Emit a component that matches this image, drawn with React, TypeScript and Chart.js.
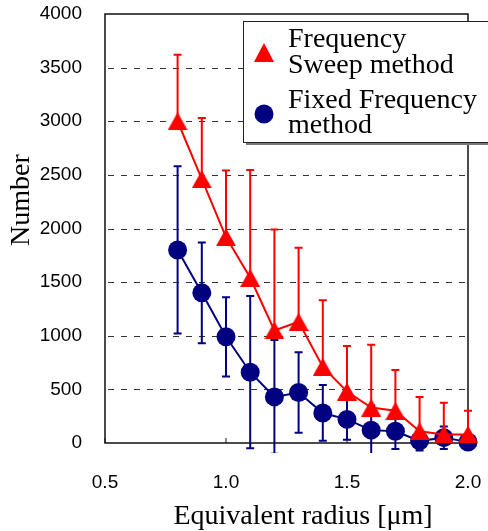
import React, { useEffect, useRef } from 'react';
import { Chart, registerables } from 'chart.js';

Chart.register(...registerables);

// ---- data ----
const radius = [0.8, 0.9, 1.0, 1.1, 1.2, 1.3, 1.4, 1.5, 1.6, 1.7, 1.8, 1.9, 2.0];
const sweepValues = [3000, 2460, 1920, 1540, 1050, 1130, 710, 480, 330, 300, 110, 80, 80];
const sweepUpper = [3620, 3030, 2540, 2545, 1990, 1820, 1330, 905, 915, 680, 430, 375, 300];
const fixedValues = [1800, 1400, 990, 660, 430, 470, 280, 220, 120, 110, 20, 50, 10];
const fixedError = [780, 470, 370, 710, 530, 375, 260, 190, 230, 165, 90, 105, 30];
const xTicks = [0.5, 1.0, 1.5, 2.0];
const yTicks = [0, 500, 1000, 1500, 2000, 2500, 3000, 3500, 4000];
const legendSweep = ['Frequency', 'Sweep method'];
const legendFixed = ['Fixed Frequency', 'method'];
const xTitle = 'Equivalent radius [\u03bcm]';
const yTitle = 'Number';

const RED = '#ff0000';
const BLUE = '#000080';
const SERIF = '"Liberation Serif", "Times New Roman", serif';
const SANS = '"Liberation Sans", Arial, sans-serif';

function makeTriangle(): HTMLCanvasElement {
  const c = document.createElement('canvas');
  c.width = 20;
  c.height = 18;
  const g = c.getContext('2d')!;
  g.fillStyle = RED;
  g.beginPath();
  g.moveTo(10, 0);
  g.lineTo(20, 18);
  g.lineTo(0, 18);
  g.closePath();
  g.fill();
  return c;
}

const frameGridPlugin = {
  id: 'frameGrid',
  beforeDatasetsDraw(chart: any) {
    const { ctx, chartArea, scales } = chart;
    const { left, right, top, bottom } = chartArea;
    ctx.save();
    ctx.strokeStyle = '#333';
    ctx.lineWidth = 1;
    ctx.setLineDash([6, 7]);
    ctx.lineDashOffset = -3;
    yTicks.forEach((v) => {
      if (v === yTicks[0] || v === yTicks[yTicks.length - 1]) return;
      const py = Math.round(scales.y.getPixelForValue(v)) + 0.5;
      ctx.beginPath();
      ctx.moveTo(left, py);
      ctx.lineTo(right, py);
      ctx.stroke();
    });
    ctx.setLineDash([]);
    // x tick marks (inside)
    ctx.strokeStyle = '#666';
    ctx.lineWidth = 1.5;
    xTicks.forEach((v) => {
      const px = scales.x.getPixelForValue(v);
      ctx.beginPath();
      ctx.moveTo(px, bottom);
      ctx.lineTo(px, bottom - 5);
      ctx.stroke();
    });
    // frame
    ctx.strokeStyle = '#111';
    ctx.lineWidth = 1.5;
    ctx.strokeRect(left, top, right - left, bottom - top);
    ctx.restore();
  },
};

const errorBarPlugin = {
  id: 'errorBars',
  beforeDatasetDraw(chart: any, args: any) {
    const ds = chart.data.datasets[args.index];
    const bars = ds.errorBars;
    if (!bars) return;
    const { ctx, chartArea, scales } = chart;
    ctx.save();
    ctx.beginPath();
    ctx.rect(chartArea.left - 10, chartArea.top, chartArea.width + 20, chartArea.height + 10);
    ctx.clip();
    ctx.strokeStyle = ds.borderColor;
    ctx.lineWidth = 2;
    ds.data.forEach((p: any, i: number) => {
      const [lo, hi] = bars[i];
      const px = scales.x.getPixelForValue(p.x);
      const pl = scales.y.getPixelForValue(lo);
      const ph = scales.y.getPixelForValue(hi);
      ctx.beginPath();
      ctx.moveTo(px, pl);
      ctx.lineTo(px, ph);
      ctx.moveTo(px - 4, ph);
      ctx.lineTo(px + 4, ph);
      if (lo < p.y) {
        ctx.moveTo(px - 4, pl);
        ctx.lineTo(px + 4, pl);
      }
      ctx.stroke();
    });
    ctx.restore();
  },
};

const textPlugin = {
  id: 'texts',
  afterDraw(chart: any) {
    const { ctx } = chart;
    ctx.save();
    ctx.fillStyle = '#000';
    ctx.font = `28px ${SERIF}`;
    ctx.textAlign = 'center';
    ctx.textBaseline = 'middle';
    ctx.fillText(xTitle, 303, 517);
    ctx.save();
    ctx.translate(22, 200);
    ctx.rotate(-Math.PI / 2);
    ctx.font = `28px ${SERIF}`;
    ctx.fillText(yTitle, 0, 0);
    ctx.restore();

    // legend
    const bx = 243, by = 21, bw = 260, bh = 121;
    ctx.fillStyle = '#777';
    ctx.fillRect(bx + 3, by + 3, bw, bh);
    ctx.fillStyle = '#fff';
    ctx.fillRect(bx, by, bw, bh);
    ctx.strokeStyle = '#222';
    ctx.lineWidth = 1;
    ctx.strokeRect(bx + 0.5, by + 0.5, bw, bh);

    // triangle
    ctx.fillStyle = RED;
    ctx.beginPath();
    ctx.moveTo(264, 43);
    ctx.lineTo(274, 62);
    ctx.lineTo(254, 62);
    ctx.closePath();
    ctx.fill();
    // circle
    ctx.fillStyle = BLUE;
    ctx.beginPath();
    ctx.arc(264, 114, 9.5, 0, Math.PI * 2);
    ctx.fill();

    ctx.fillStyle = '#000';
    ctx.font = `28px ${SERIF}`;
    ctx.textAlign = 'left';
    ctx.textBaseline = 'alphabetic';
    ctx.fillText(legendSweep[0], 288, 47);
    ctx.fillText(legendSweep[1], 288, 73);
    ctx.fillText(legendFixed[0], 288, 108);
    ctx.fillText(legendFixed[1], 288, 133);
    ctx.restore();
  },
};

const zeroPad = (s: any) => {
  s.paddingTop = 0;
  s.paddingBottom = 0;
  s.paddingLeft = 0;
  s.paddingRight = 0;
};

export default function App() {
  const ref = useRef<HTMLCanvasElement | null>(null);
  useEffect(() => {
    if (!ref.current) return;
    const tri = makeTriangle();
    const chart = new Chart(ref.current, {
      type: 'line',
      data: {
        datasets: [
          {
            label: legendSweep.join(' '),
            data: radius.map((x, i) => ({ x, y: sweepValues[i] })),
            errorBars: sweepValues.map((v, i) => [v, sweepUpper[i]]),
            borderColor: RED,
            backgroundColor: RED,
            borderWidth: 2,
            pointStyle: tri,
            pointRadius: 11,
            pointHoverRadius: 11,
            pointBorderWidth: 0,
            clip: 12,
            tension: 0,
          } as any,
          {
            label: legendFixed.join(' '),
            data: radius.map((x, i) => ({ x, y: fixedValues[i] })),
            errorBars: fixedValues.map((v, i) => [v - fixedError[i], v + fixedError[i]]),
            borderColor: BLUE,
            backgroundColor: BLUE,
            borderWidth: 2,
            pointStyle: 'circle',
            pointRadius: 9.5,
            pointHoverRadius: 9.5,
            pointBorderWidth: 0,
            clip: 12,
            tension: 0,
          } as any,
        ],
      },
      options: {
        animation: false,
        responsive: true,
        maintainAspectRatio: false,
        events: [],
        layout: { padding: { left: 0, top: 14, right: 20, bottom: 0 } },
        plugins: { legend: { display: false }, tooltip: { enabled: false } },
        scales: {
          x: {
            type: 'linear',
            min: 0.5,
            max: 2.0,
            afterBuildTicks: (s: any) => {
              s.ticks = xTicks.map((v) => ({ value: v }));
            },
            afterFit: (s: any) => {
              s.height = 88;
              zeroPad(s);
            },
            grid: { display: false, drawTicks: false },
            border: { display: false },
            ticks: {
              padding: 28,
              color: '#000',
              font: { family: SANS, size: 19 },
              callback: (v: any) => Number(v).toFixed(1),
            },
          },
          y: {
            type: 'linear',
            min: 0,
            max: 4000,
            afterBuildTicks: (s: any) => {
              s.ticks = yTicks.map((v) => ({ value: v }));
            },
            afterFit: (s: any) => {
              s.width = 105;
              zeroPad(s);
            },
            grid: { display: false, drawTicks: false },
            border: { display: false },
            ticks: {
              padding: 23,
              color: '#000',
              font: { family: SANS, size: 19 },
              callback: (v: any) => String(v),
            },
          },
        },
      },
      plugins: [frameGridPlugin, errorBarPlugin, textPlugin],
    });
    return () => chart.destroy();
  }, []);
  return (
    <div style={{ position: 'fixed', left: 0, top: 0, width: 488, height: 531, background: '#fff' }}>
      <canvas ref={ref} />
    </div>
  );
}
